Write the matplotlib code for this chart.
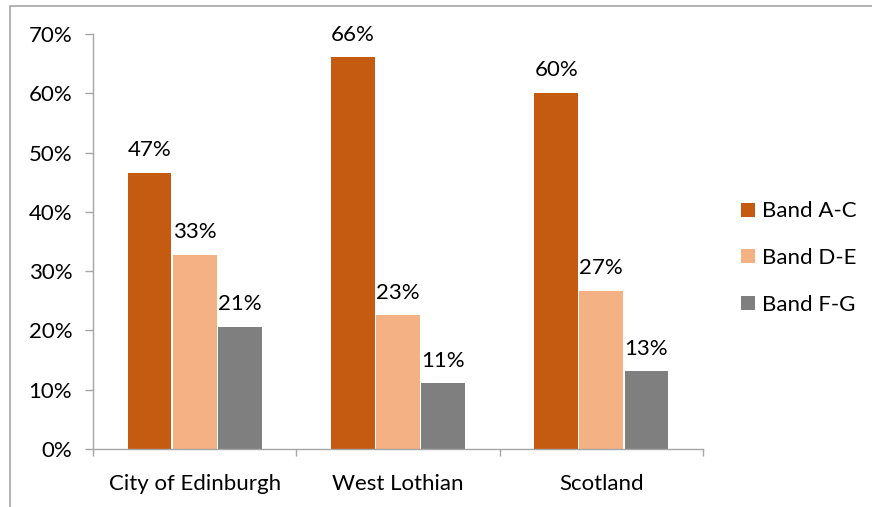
import matplotlib
matplotlib.use("Agg")
import matplotlib.pyplot as plt
from matplotlib.patches import Rectangle
import numpy as np

categories = ["City of Edinburgh", "West Lothian", "Scotland"]
series_names = ["Band A-C", "Band D-E", "Band F-G"]
band_ac = [46.6, 66.1, 60.1]
band_de = [32.8, 22.6, 26.7]
band_fg = [20.6, 11.1, 13.1]
colors = ["#c55a11", "#f4b183", "#7f7f7f"]
yticks = [0, 10, 20, 30, 40, 50, 60, 70]

plt.rcParams['font.family'] = ['Lato', 'DejaVu Sans']
FS = 16

fig = plt.figure(figsize=(8.72, 5.07), dpi=100)
ax = fig.add_axes([93/872, 58/507, 610/872, 415/507])

x = np.arange(len(categories))
width = 0.215
offs = [-0.222, 0, 0.222]
for vals, name, c, o in zip([band_ac, band_de, band_fg], series_names, colors, offs):
    bars = ax.bar(x + o, vals, width, color=c, label=name, zorder=2)
    for b, v in zip(bars, vals):
        ax.annotate(f"{v:.0f}%", (b.get_x() + b.get_width()/2, v),
                    xytext=(0, 9), textcoords="offset points",
                    ha="center", va="bottom", fontsize=FS, color="#000000")

ax.set_xlim(-0.5, len(categories) - 0.5)
ax.set_ylim(0, 70)
ax.set_yticks(yticks)
ax.set_yticklabels([f"{t}%" for t in yticks], fontsize=FS)
ax.set_xticks(np.arange(len(categories) + 1) - 0.5)
ax.set_xticklabels([])
ax.set_xticks(x, minor=True)
ax.set_xticklabels(categories, minor=True, fontsize=FS)
ax.tick_params(axis='x', which='minor', length=0, pad=18)
ax.tick_params(axis='x', which='major', length=5, color="#a6a6a6", width=1)
ax.tick_params(axis='y', length=6, color="#a6a6a6", width=1, pad=9)
for s in ["top", "right"]:
    ax.spines[s].set_visible(False)
for s in ["left", "bottom"]:
    ax.spines[s].set_color("#a6a6a6")
    ax.spines[s].set_linewidth(1)

leg = ax.legend(loc="center left", bbox_to_anchor=(1.03, 0.46), frameon=False,
                fontsize=FS, handlelength=0.6, handleheight=0.6,
                handletextpad=0.35, labelspacing=1.2)

fig.patches.append(Rectangle((10/872, -0.1), 2.0, 1.1 - 6/507,
                             transform=fig.transFigure, fill=False,
                             edgecolor="#a6a6a6", linewidth=1.2))

fig.savefig("out.png", dpi=100)
